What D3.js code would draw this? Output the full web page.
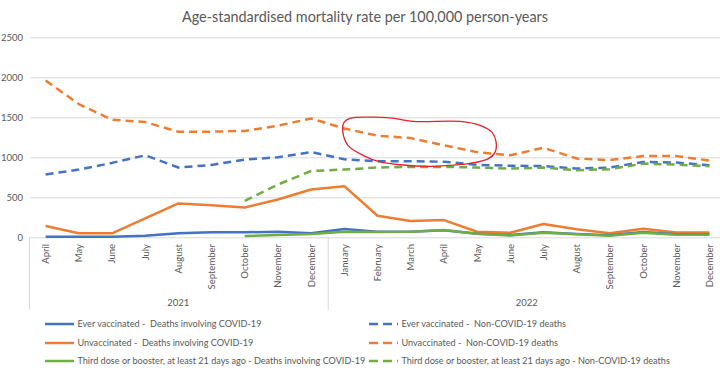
<!DOCTYPE html>
<html>
<head>
<meta charset="utf-8">
<script src="https://cdn.jsdelivr.net/npm/d3@7"></script>
<style>
  body { margin: 0; background: #fff; }
  svg { font-family: Lato, "Open Sans", sans-serif; }
  .grid line { stroke: #d9d9d9; }
  .grid path { display: none; }
  .lbl { fill: #595959; font-size: 9.5px; }
  .leg { fill: #595959; font-size: 9.1px; white-space: pre; }
</style>
</head>
<body>
<script>
// categories
var months = ["April", "May", "June", "July", "August", "September", "October", "November", "December",
              "January", "February", "March", "April", "May", "June", "July", "August", "September",
              "October", "November", "December"];
var yearLabels = ["2021", "2022"];
var monthsPerYear = [9, 12];
var yTicks = [0, 500, 1000, 1500, 2000, 2500];

// series values (per 100,000 person-years)
var everCovid   = [8, 8, 8, 20, 50, 62, 62, 70, 50, 103, 70, 70, 88, 45, 28, 62, 42, 25, 66, 38, 38];
var unvaxCovid  = [141, 50, 50, 236, 423, 402, 373, 473, 598, 639, 270, 203, 215, 70, 57, 166, 100, 50, 108, 60, 60];
var boostCovid  = [null, null, null, null, null, null, 16, 28, 41, 70, 65, 68, 91, 45, 22, 57, 37, 20, 57, 32, 32];
var everNon     = [785, 847, 930, 1025, 872, 905, 971, 1000, 1066, 975, 950, 950, 945, 905, 895, 890, 859, 872, 942, 934, 900];
var unvaxNon    = [1960, 1665, 1470, 1440, 1320, 1320, 1330, 1395, 1485, 1360, 1270, 1240, 1150, 1065, 1025, 1120, 985, 965, 1015, 1015, 960];
var boostNon    = [null, null, null, null, null, null, 456, 660, 829, 847, 872, 880, 880, 872, 859, 872, 838, 851, 921, 909, 888];

// hand drawn red ring, in (month index, value) units
var ringNote = [[9.17, 1486], [9.77, 1502], [10.38, 1494], [11.07, 1448], [12.49, 1448], [13.09, 1398],
                [13.45, 1311], [13.57, 1199], [13.54, 1062], [13.33, 981], [12.79, 925], [12.19, 900],
                [11.58, 887], [10.68, 907], [10.08, 942], [9.56, 1025], [9.11, 1149], [8.95, 1336], [8.99, 1436]];

var series = [
  {name: "Ever vaccinated -  Deaths involving COVID-19", values: everCovid, color: "#4472C4", dash: null},
  {name: "Unvaccinated -  Deaths involving COVID-19", values: unvaxCovid, color: "#ED7D31", dash: null},
  {name: "Third dose or booster, at least 21 days ago - Deaths involving COVID-19", values: boostCovid, color: "#70AD47", dash: null},
  {name: "Ever vaccinated -  Non-COVID-19 deaths", values: everNon, color: "#4472C4", dash: "8,5"},
  {name: "Unvaccinated -  Non-COVID-19 deaths", values: unvaxNon, color: "#ED7D31", dash: "8,5"},
  {name: "Third dose or booster, at least 21 days ago - Non-COVID-19 deaths", values: boostNon, color: "#70AD47", dash: "8,5"}
];

var W = 720, H = 373;
var plot = {left: 29, right: 726, top: 37.3, bottom: 237.3};

var svg = d3.select("body").append("svg")
    .attr("width", W)
    .attr("height", H);

var keys = months.map(function(m, i) { return i; });
var xScale = d3.scaleBand().domain(keys).range([plot.left, plot.right]);
var xPos = function(i) { return xScale(i) + xScale.bandwidth() / 2; };
var xIdx = d3.scaleLinear().domain([0, 20]).range([xPos(0), xPos(20)]);
var yScale = d3.scaleLinear().domain([0, 2500]).range([plot.bottom, plot.top]);

// title
svg.append("text")
    .attr("x", 365)
    .attr("y", 22)
    .attr("text-anchor", "middle")
    .attr("fill", "#595959")
    .attr("font-size", "14.4px")
    .text("Age-standardised mortality rate per 100,000 person-years");

// horizontal gridlines
svg.append("g")
    .attr("class", "grid")
    .attr("transform", "translate(" + 30 + ",0)")
    .call(d3.axisLeft(yScale).tickValues(yTicks).tickSize(-(W - 30)).tickFormat(""));

// y labels
svg.append("g").selectAll("text")
    .data(yTicks)
    .enter().append("text")
    .attr("class", "lbl")
    .attr("x", 23)
    .attr("y", function(d) { return yScale(d); })
    .attr("dy", "0.35em")
    .attr("text-anchor", "end")
    .text(function(d) { return d; });

// month labels, rotated
svg.append("g").selectAll("text")
    .data(months)
    .enter().append("text")
    .attr("class", "lbl")
    .attr("transform", function(d, i) { return "translate(" + (xPos(i) + 3.5) + ",244) rotate(-90)"; })
    .attr("text-anchor", "end")
    .text(function(d) { return d; });

// year group separators and labels
var edges = [0];
monthsPerYear.forEach(function(n) { edges.push(edges[edges.length - 1] + n); });
edges.forEach(function(e) {
  var xe = e < months.length ? xScale(e) : plot.right;
  svg.append("line")
      .attr("x1", xe + 0.5).attr("x2", xe + 0.5)
      .attr("y1", plot.bottom).attr("y2", 310)
      .attr("stroke", "#d9d9d9");
});
yearLabels.forEach(function(y, k) {
  var a = xScale(edges[k]);
  var b = edges[k + 1] < months.length ? xScale(edges[k + 1]) : plot.right;
  svg.append("text")
      .attr("class", "lbl")
      .attr("x", (a + b) / 2)
      .attr("y", 306)
      .attr("text-anchor", "middle")
      .text(y);
});

// lines
var lineGen = d3.line()
    .defined(function(d) { return d != null; })
    .x(function(d, i) { return xPos(i); })
    .y(function(d) { return yScale(d); });

var order = [3, 4, 5, 1, 0, 2];
order.forEach(function(k) {
  var s = series[k];
  svg.append("path")
      .attr("d", lineGen(s.values))
      .attr("fill", "none")
      .attr("stroke", s.color)
      .attr("stroke-width", 2.5)
      .attr("stroke-dasharray", s.dash)
      .attr("stroke-linejoin", "round");
});

// red annotation ring
svg.append("path")
    .attr("d", d3.line()
        .x(function(d) { return xIdx(d[0]); })
        .y(function(d) { return yScale(d[1]); })
        .curve(d3.curveCatmullRomClosed)(ringNote))
    .attr("fill", "none")
    .attr("stroke", "#E8202A")
    .attr("stroke-width", 1.3);

// legend
var legendRows = [324, 343, 361];
series.forEach(function(s, k) {
  var col = k < 3 ? 0 : 1;
  var row = k % 3;
  var x0 = col === 0 ? 45 : 369;
  var g = svg.append("g").attr("transform", "translate(" + x0 + "," + legendRows[row] + ")");
  g.append("line")
      .attr("x1", 0).attr("x2", 29)
      .attr("stroke", s.color)
      .attr("stroke-width", 2.5)
      .attr("stroke-dasharray", s.dash ? "9,5" : null);
  g.append("text")
      .attr("class", "leg")
      .attr("x", 32.5)
      .attr("dy", "0.35em")
      .text(s.name);
});
</script>
</body>
</html>
